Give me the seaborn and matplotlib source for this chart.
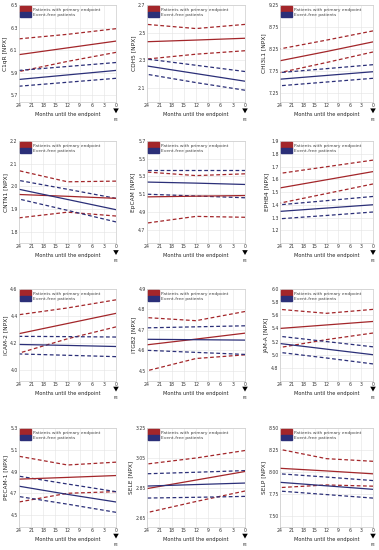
import matplotlib
matplotlib.use('Agg')
import matplotlib.pyplot as plt
import matplotlib.patches as mpatches
import seaborn as sns

# --------------- DATA -----------------
MONTHS = [24, 12, 0]
X_TICKS = [24, 21, 18, 15, 12, 9, 6, 3, 0]

proteins = ['C1qR', 'CDH5', 'CHI3L1', 'CNTN1', 'EpCAM', 'EPHB4',
            'ICAM-2', 'ITGB2', 'JAM-A', 'PECAM-1', 'SELE', 'SELP']

# patients with primary endpoint (red)
red_mean = [[6.06, 6.12, 6.18], [2.435, 2.447, 2.46], [7.98, 8.19, 8.41],
            [1.964, 1.956, 1.947], [5.07, 5.078, 5.085], [1.532, 1.596, 1.66],
            [4.27, 4.345, 4.42], [4.627, 4.655, 4.684], [5.40, 5.453, 5.506],
            [4.83, 4.846, 4.863], [2.846, 2.903, 2.96], [8.04, 8.01, 7.977]]
red_upper = [[6.20, 6.24, 6.29], [2.56, 2.53, 2.56], [8.25, 8.45, 8.66],
             [2.069, 2.02, 2.023], [5.35, 5.31, 5.33], [1.646, 1.698, 1.75],
             [4.41, 4.46, 4.52], [4.76, 4.745, 4.79], [5.69, 5.63, 5.69],
             [5.04, 4.96, 4.986], [3.01, 3.05, 3.10], [8.256, 8.15, 8.12]]
red_lower = [[5.91, 6.00, 6.08], [2.31, 2.345, 2.37], [7.71, 7.94, 8.18],
             [1.861, 1.886, 1.869], [4.775, 4.85, 4.84], [1.413, 1.488, 1.563],
             [4.126, 4.232, 4.32], [4.50, 4.56, 4.578], [5.11, 5.23, 5.33],
             [4.62, 4.70, 4.715], [2.686, 2.76, 2.83], [7.82, 7.85, 7.836]]

# event-free patients (blue)
blue_mean = [[5.84, 5.88, 5.92], [2.26, 2.205, 2.15], [7.56, 7.645, 7.73],
             [1.987, 1.942, 1.897], [5.237, 5.225, 5.21], [1.348, 1.374, 1.40],
             [4.19, 4.183, 4.175], [4.654, 4.652, 4.65], [5.17, 5.085, 5.0],
             [4.765, 4.69, 4.62], [2.863, 2.873, 2.883], [7.88, 7.84, 7.80]]
blue_upper = [[5.92, 5.955, 5.99], [2.31, 2.265, 2.22], [7.71, 7.80, 7.89],
              [2.026, 1.987, 1.947], [5.37, 5.37, 5.37], [1.40, 1.432, 1.465],
              [4.25, 4.248, 4.245], [4.71, 4.715, 4.72], [5.28, 5.20, 5.12],
              [4.857, 4.785, 4.715], [2.945, 2.955, 2.966], [7.977, 7.94, 7.90]]
blue_lower = [[5.78, 5.815, 5.85], [2.20, 2.14, 2.085], [7.41, 7.495, 7.58],
              [1.944, 1.894, 1.843], [5.10, 5.08, 5.06], [1.29, 1.316, 1.343],
              [4.12, 4.11, 4.10], [4.60, 4.59, 4.58], [5.035, 4.95, 4.86],
              [4.67, 4.60, 4.525], [2.783, 2.788, 2.794], [7.78, 7.74, 7.70]]

y_limits = [(5.64, 6.5), (2.0, 2.7), (7.04, 9.25), (1.75, 2.2),
            (4.55, 5.7), (1.1, 1.9), (3.92, 4.6), (4.45, 4.9),
            (4.6, 6.0), (4.39, 5.3), (2.59, 3.25), (7.37, 8.5)]
y_ticklabels = [['5.7', '5.9', '6.1', '6.3', '6.5'],
                ['2.1', '2.3', '2.5', '2.7'],
                ['7.25', '7.75', '8.25', '8.75', '9.25'],
                ['1.8', '1.9', '2.0', '2.1', '2.2'],
                ['4.7', '4.9', '5.1', '5.3', '5.5', '5.7'],
                ['1.2', '1.3', '1.4', '1.5', '1.6', '1.7', '1.8', '1.9'],
                ['4.0', '4.2', '4.4', '4.6'],
                ['4.5', '4.6', '4.7', '4.8', '4.9'],
                ['4.8', '5.0', '5.2', '5.4', '5.6', '5.8', '6.0'],
                ['4.5', '4.7', '4.9', '5.1', '5.3'],
                ['2.65', '2.85', '3.05', '3.25'],
                ['7.50', '7.75', '8.00', '8.25', '8.50']]

RED = '#a3262a'
BLUE = '#2b2f78'

# --------------- LAYOUT (pixels) -----------------
W, H = 379, 550
rows = [(5, 102), (141, 243), (289, 381), (428, 527)]
cols = [(19, 116), (147, 245), (280, 373)]

sns.set_theme(style='whitegrid')
plt.rcParams['font.family'] = ['DejaVu Sans']

fig = plt.figure(figsize=(W / 100, H / 100), dpi=100)

for i, name in enumerate(proteins):
    top, bottom = rows[i // 3]
    left, right = cols[i % 3]
    ax = fig.add_axes([left / W, 1 - bottom / H, (right - left) / W, (bottom - top) / H])

    for vals, col, ls in [(red_upper[i], RED, '--'), (red_lower[i], RED, '--'),
                          (blue_upper[i], BLUE, '--'), (blue_lower[i], BLUE, '--'),
                          (red_mean[i], RED, '-'), (blue_mean[i], BLUE, '-')]:
        sns.lineplot(x=MONTHS, y=vals, color=col, ax=ax, linewidth=0.9)
        if ls == '--':
            ax.lines[-1].set_dashes((3, 2))

    ax.set_xlim(24, 0)
    ax.set_xticks(X_TICKS)
    ax.set_xticklabels([str(t) for t in X_TICKS])
    ax.set_ylim(*y_limits[i])
    ax.set_yticks([float(t) for t in y_ticklabels[i]])
    ax.set_yticklabels(y_ticklabels[i])
    ax.tick_params(axis='both', labelsize=3.3, pad=1, length=0, colors='#333333')
    ax.grid(True, color='#e4e4e4', linewidth=0.4)
    for sp in ax.spines.values():
        sp.set_color('#cccccc')
        sp.set_linewidth(0.5)

    ax.set_xlabel('Months until the endpoint', fontsize=3.6, labelpad=2.5, color='#222222')
    ax.set_ylabel(f'{name} [NPX]', fontsize=4.2, labelpad=1.5, color='#222222')

    # PE marker under the last time point
    tr = ax.get_xaxis_transform()
    ax.annotate('', xy=(0, -0.145), xytext=(0, -0.075), xycoords=tr, textcoords=tr,
                arrowprops=dict(arrowstyle='simple,head_width=0.8,head_length=0.7,tail_width=0.35',
                                mutation_scale=5, color='black', lw=0),
                annotation_clip=False)
    ax.text(0, -0.16, 'PE', transform=tr, fontsize=2.8, ha='center', va='top')

    handles = [mpatches.Patch(color=RED, label='Patients with primary endpoint'),
               mpatches.Patch(color=BLUE, label='Event-free patients')]
    ax.legend(handles=handles, loc='upper left', fontsize=3.2, frameon=False,
              handlelength=2.4, handleheight=1.5, labelspacing=0.0,
              borderaxespad=0.2, handletextpad=0.4, borderpad=0.1,
              labelcolor='#444444')

fig.savefig('out.png', dpi=100)
